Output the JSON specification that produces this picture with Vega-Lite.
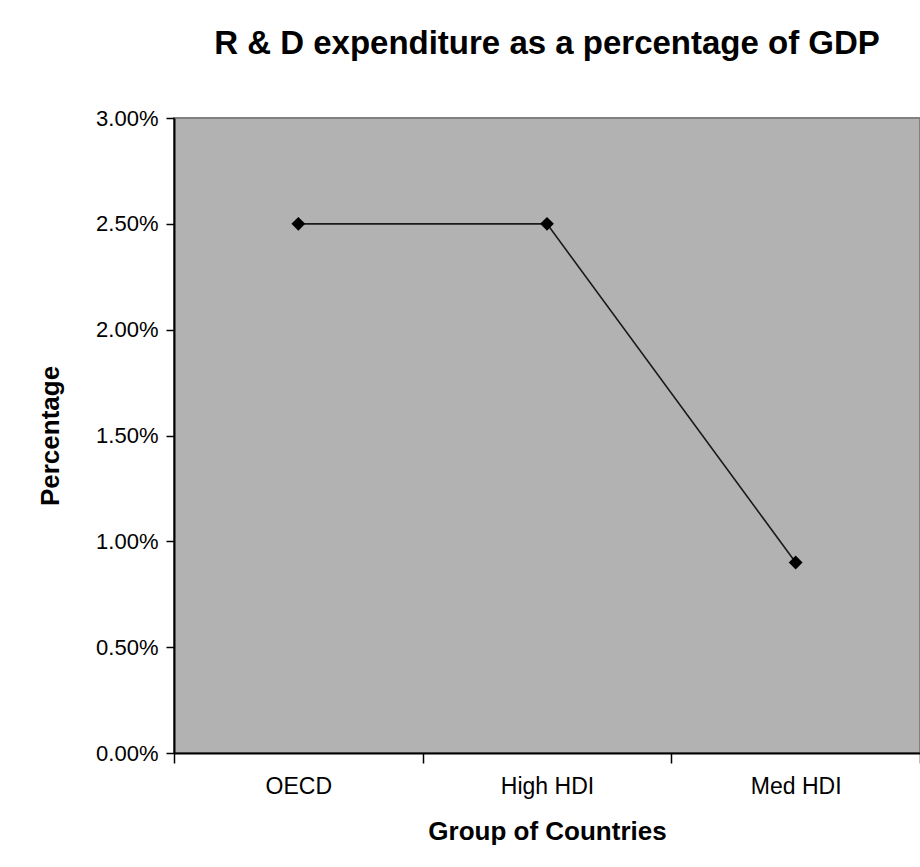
{
  "$schema": "https://vega.github.io/schema/vega-lite/v6.json",
  "width": 746,
  "height": 635,
  "autosize": "none",
  "padding": {"left": 174, "top": 118, "right": 0, "bottom": 114},
  "background": "white",
  "title": {
    "text": "R & D expenditure as a percentage of GDP",
    "font": "Liberation Sans",
    "fontSize": 33,
    "fontWeight": "bold",
    "color": "#000000",
    "anchor": "middle",
    "offset": 46
  },
  "config": {
    "view": {"fill": "#b2b2b2", "stroke": "#808080", "strokeWidth": 2},
    "axis": {
      "labelFont": "Liberation Sans",
      "titleFont": "Liberation Sans",
      "labelColor": "#000000",
      "titleColor": "#000000",
      "domainColor": "#000000",
      "tickColor": "#000000",
      "grid": false
    }
  },
  "data": {
    "values": [
      {"group": "OECD", "value": 0.025},
      {"group": "High HDI", "value": 0.025},
      {"group": "Med HDI", "value": 0.009}
    ]
  },
  "encoding": {
    "x": {
      "field": "group",
      "type": "nominal",
      "sort": null,
      "scale": {"type": "band", "paddingInner": 0, "paddingOuter": 0},
      "axis": {
        "title": "Group of Countries",
        "titleFontSize": 26,
        "titleFontWeight": "bold",
        "titlePadding": 20,
        "labelFontSize": 23,
        "labelAngle": 0,
        "labelPadding": 12,
        "tickBand": "extent",
        "tickSize": 10,
        "domainWidth": 2,
        "tickWidth": 1.5
      }
    },
    "y": {
      "field": "value",
      "type": "quantitative",
      "scale": {"domain": [0, 0.03], "nice": false, "zero": true},
      "axis": {
        "title": "Percentage",
        "titleFontSize": 26,
        "titleFontWeight": "bold",
        "titlePadding": 32,
        "labelFontSize": 22,
        "format": ".2%",
        "values": [0, 0.005, 0.01, 0.015, 0.02, 0.025, 0.03],
        "tickSize": 8,
        "labelPadding": 8,
        "domainWidth": 2,
        "tickWidth": 1.5
      }
    }
  },
  "layer": [
    {"mark": {"type": "line", "color": "#1a1a1a", "strokeWidth": 1.6}},
    {"mark": {"type": "point", "shape": "diamond", "filled": true, "color": "#000000", "opacity": 1, "size": 190}}
  ]
}
